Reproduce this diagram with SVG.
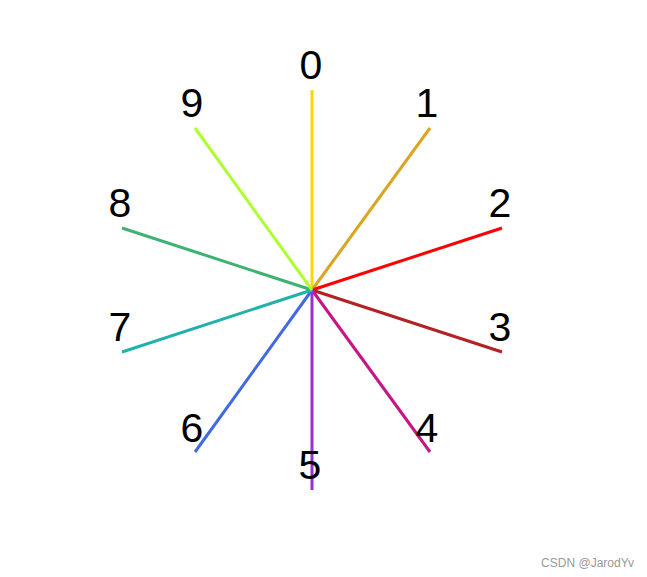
<svg xmlns="http://www.w3.org/2000/svg" width="647" height="577" viewBox="0 0 647 577">
<style>
.r line{stroke-width:3;stroke-linecap:butt}
.lbl text{font-family:"Liberation Sans",Arial,sans-serif;font-size:41px;fill:#000;text-anchor:middle}
.wm{font-family:"Liberation Sans",Arial,sans-serif;font-size:12px;fill:#999}
</style>
<rect width="647" height="577" fill="#fff"/>
<g id="connectors" class="r">
<line x1="312" y1="290" x2="312" y2="90" stroke="#FFD700"/>
<line x1="312" y1="290" x2="430" y2="128" stroke="#DAA520"/>
<line x1="312" y1="290" x2="502" y2="228" stroke="#FF0000"/>
<line x1="312" y1="290" x2="502" y2="352" stroke="#B22222"/>
<line x1="312" y1="290" x2="430" y2="452" stroke="#C71585"/>
<line x1="312" y1="290" x2="312" y2="490" stroke="#9932CC"/>
<line x1="312" y1="290" x2="195" y2="452" stroke="#4169E1"/>
<line x1="312" y1="290" x2="122" y2="352" stroke="#20B2AA"/>
<line x1="312" y1="290" x2="122" y2="228" stroke="#3CB371"/>
<line x1="312" y1="290" x2="195" y2="128" stroke="#ADFF2F"/>
</g>
<g class="lbl">
<g id="n0"><text x="311" y="79">0</text></g>
<g id="n1"><text x="427" y="117">1</text></g>
<g id="n2"><text x="500" y="217">2</text></g>
<g id="n3"><text x="500" y="341">3</text></g>
<g id="n4"><text x="427" y="442">4</text></g>
<g id="n5"><text x="310" y="479">5</text></g>
<g id="n6"><text x="192" y="442">6</text></g>
<g id="n7"><text x="120" y="341">7</text></g>
<g id="n8"><text x="120" y="217">8</text></g>
<g id="n9"><text x="192" y="117">9</text></g>
</g>
<text class="wm" x="634" y="567" text-anchor="end">CSDN @JarodYv</text>
</svg>
